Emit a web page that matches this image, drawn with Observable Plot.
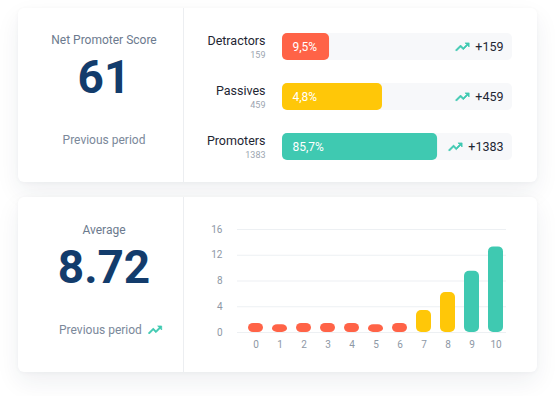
<!DOCTYPE html>
<html><head><meta charset="utf-8">
<script src="https://cdn.jsdelivr.net/npm/d3@7"></script>
<script src="https://cdn.jsdelivr.net/npm/@observablehq/plot@0.6"></script>
<style>
html,body{margin:0;padding:0;background:#fff;}
body{width:555px;height:396px;position:relative;overflow:hidden;font-family:Roboto,sans-serif;}
.card{position:absolute;left:18px;width:519px;background:#fff;border-radius:6px;
  box-shadow:0 10px 24px rgba(30,40,70,0.07),0 1px 4px rgba(30,40,70,0.04);}
.divider{position:absolute;left:165px;top:0;bottom:0;width:1px;background:#eceef1;}
.lbl{position:absolute;left:0;width:172px;text-align:center;color:#6c7a8e;font-size:12px;line-height:14px;white-space:nowrap;}
.big{position:absolute;left:0;width:172px;text-align:center;color:#133c6c;font-size:46px;font-weight:700;line-height:46px;}
.prev{color:#7b889a;}
.chart{position:absolute;left:165px;top:0;}
.chart svg{overflow:visible;background:transparent;}
</style></head>
<body>
<div class="card" id="c1" style="top:8px;height:174px;">
  <div class="lbl" style="top:25px;" id="t1"></div>
  <div class="big" style="top:46px;" id="v1"></div>
  <div class="lbl prev" style="top:125px;" id="p1"></div>
  <div class="divider"></div>
  <div class="chart" id="chart1"></div>
</div>
<div class="card" id="c2" style="top:197px;height:175px;">
  <div class="lbl" style="top:26px;" id="t2"></div>
  <div class="big" style="top:47px;" id="v2"></div>
  <div class="lbl prev" style="top:126px;left:41px;width:auto;text-align:left;" id="p2"></div>
  <div class="divider"></div>
  <div class="chart" id="chart2"></div>
</div>
<script>
// ---- data ----
const npsTitle = "Net Promoter Score";
const npsValue = "61";
const avgTitle = "Average";
const avgValue = "8.72";
const prevLabel = "Previous period";
const categories = ["Detractors", "Passives", "Promoters"];
const counts = [159, 459, 1383];
const shares = ["9,5%", "4,8%", "85,7%"];
const changes = ["+159", "+459", "+1383"];
const scores = ["0","1","2","3","4","5","6","7","8","9","10"];
const responses = [1.4, 1.2, 1.4, 1.4, 1.4, 1.2, 1.4, 3.4, 6.2, 9.5, 13.3];
const scoreGroups = ["Detractors","Detractors","Detractors","Detractors","Detractors","Detractors","Detractors","Passives","Passives","Promoters","Promoters"];
const yTicks = [0, 4, 8, 12, 16];

// ---- styles ----
const colors = ["#ff6347", "#ffc708", "#3fc9b1"];
const teal = "#3fc9b1";
const dark = "#1e2633";

document.getElementById("t1").textContent = npsTitle;
document.getElementById("v1").textContent = npsValue;
document.getElementById("p1").textContent = prevLabel;
document.getElementById("t2").textContent = avgTitle;
document.getElementById("v2").textContent = avgValue;

// trending-up icon as custom symbol
const iconPts = [[16,6],[18.29,8.29],[13.41,13.17],[9.41,9.17],[2,16.59],[3.41,18],[9.41,12],[13.41,16],[19.71,9.71],[22,12],[22,6]];
const trendSymbol = {
  draw(ctx) {
    const s = 0.68;
    iconPts.forEach(([x, y], i) => {
      const px = (x - 12) * s, py = (y - 12) * s;
      if (i === 0) ctx.moveTo(px, py); else ctx.lineTo(px, py);
    });
    ctx.closePath();
  }
};

// previous period icon (bottom card)
const p2 = document.getElementById("p2");
p2.textContent = prevLabel;
const ns = "http://www.w3.org/2000/svg";
const ic = document.createElementNS(ns, "svg");
ic.setAttribute("width", "16"); ic.setAttribute("height", "12");
ic.setAttribute("viewBox", "0 3 24 18");
ic.style.cssText = "vertical-align:middle;margin-left:5px;position:relative;top:-1px;";
const ip = document.createElementNS(ns, "path");
ip.setAttribute("d", "M" + iconPts.map(p => p.join(" ")).join("L") + "Z");
ip.setAttribute("fill", teal); ip.setAttribute("stroke", teal); ip.setAttribute("stroke-width", "1.1");
ic.appendChild(ip); p2.appendChild(ic);

// measure text width
const cv = document.createElement("canvas").getContext("2d");
cv.font = "12.5px Roboto";
const tw = t => cv.measureText(t).width;

// ---- top chart ----
const rows = categories.map((c, i) => ({category: c, count: counts[i], share: shares[i], change: changes[i]}));
const xDom = [62, 6200];
const topChart = Plot.plot({
  width: 354, height: 174,
  marginLeft: 99, marginRight: 25, marginTop: 10, marginBottom: 7,
  x: {type: "log", domain: xDom, axis: null},
  y: {domain: categories, paddingInner: 0.46, paddingOuter: 0.3, axis: null},
  color: {domain: categories, range: colors},
  style: {fontFamily: "Roboto, sans-serif", background: "transparent"},
  marks: [
    Plot.barX(rows, {y: "category", x1: () => xDom[0], x2: () => xDom[1], fill: "#f7f8fa", rx: 5}),
    Plot.barX(rows, {y: "category", x1: () => xDom[0], x2: "count", fill: "category", rx: 5}),
    Plot.text(rows, {y: "category", text: "share", frameAnchor: "left", dx: 10, textAnchor: "start", fill: "white", fontSize: 12}),
    Plot.text(rows, {y: "category", text: "category", frameAnchor: "left", dx: -17, dy: -6.5, textAnchor: "end", fill: dark, fontSize: 12.5}),
    Plot.text(rows, {y: "category", text: d => String(d.count), frameAnchor: "left", dx: -17, dy: 8, textAnchor: "end", fill: "#9ca5b0", fontSize: 9}),
    Plot.text(rows, {y: "category", text: "change", frameAnchor: "right", dx: -9, textAnchor: "end", fill: dark, fontSize: 12.5}),
    ...rows.map(r => Plot.dot([r], {y: "category", frameAnchor: "right", dx: -(9 + tw(r.change) + 13), symbol: trendSymbol, fill: teal, stroke: teal, strokeWidth: 0.7}))
  ]
});
document.getElementById("chart1").appendChild(topChart);

// ---- bottom chart ----
const dist = scores.map((s, i) => ({score: s, value: responses[i], group: scoreGroups[i]}));
const bottomChart = Plot.plot({
  width: 354, height: 175,
  marginLeft: 63, marginRight: 31, marginTop: 32, marginBottom: 40,
  x: {domain: scores, paddingInner: 0.373, paddingOuter: 0, label: null},
  y: {domain: [0, 16], label: null},
  color: {domain: categories, range: colors},
  style: {fontFamily: "Roboto, sans-serif", background: "transparent"},
  marks: [
    Plot.ruleY(yTicks, {stroke: "#edf0f3", strokeWidth: 1.2, insetLeft: -9}),
    Plot.barY(dist, {x: "score", y: "value", fill: "group", rx: 5}),
    Plot.axisY(yTicks, {tickSize: 0, tickPadding: 24, fontSize: 10, fill: "#8e98a5", label: null}),
    Plot.axisX({tickSize: 0, tickPadding: 8, fontSize: 10, fill: "#8e98a5", label: null})
  ]
});
document.getElementById("chart2").appendChild(bottomChart);
</script>
</body></html>
